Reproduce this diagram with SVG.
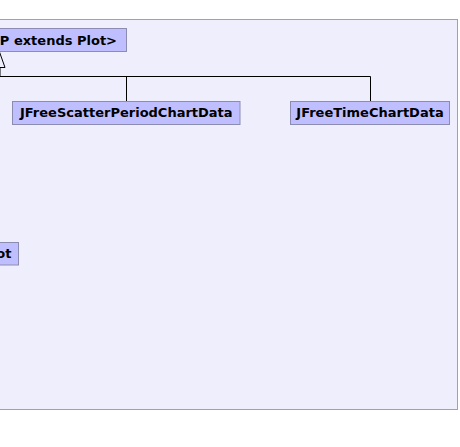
<svg xmlns="http://www.w3.org/2000/svg" width="460" height="447" viewBox="0 0 460 447">
<style>
.panel{fill:#eeeefc;stroke:#a0a0b4;stroke-width:1}
.box{fill:#bfbfff;stroke:#8c8cb0;stroke-width:1}
.lbl{font-family:"DejaVu Sans",sans-serif;font-weight:bold;font-size:13px;fill:#000}
.edge{fill:none;stroke:#000;stroke-width:1}
.tri{fill:#eeeefc;stroke:#000;stroke-width:1}
</style>
<rect width="460" height="447" fill="#ffffff"/>
<g id="panel"><rect class="panel" x="-10" y="19.5" width="467.5" height="390"/></g>
<g id="connectors">
<path class="edge" d="M0 67.5 V76.5 H370.5 V101 M126.5 76.5 V101"/>
<polygon class="tri" points="-0.5,52 -6,67.5 5,67.5"/>
</g>
<g id="node-chartdata">
<rect class="box" x="-40" y="28.5" width="166.5" height="23"/>
<text class="lbl" x="117" y="44.5" text-anchor="end">P extends Plot&gt;</text>
</g>
<g id="node-scatter">
<rect class="box" x="12.5" y="101.5" width="227.5" height="23"/>
<text class="lbl" x="126.3" y="117.3" text-anchor="middle">JFreeScatterPeriodChartData</text>
</g>
<g id="node-time">
<rect class="box" x="290.5" y="101.5" width="159" height="23"/>
<text class="lbl" x="370" y="117.3" text-anchor="middle">JFreeTimeChartData</text>
</g>
<g id="node-plot">
<rect class="box" x="-40" y="242.5" width="58.5" height="22.5"/>
<text class="lbl" x="11.5" y="258" text-anchor="end">ot</text>
</g>
</svg>
